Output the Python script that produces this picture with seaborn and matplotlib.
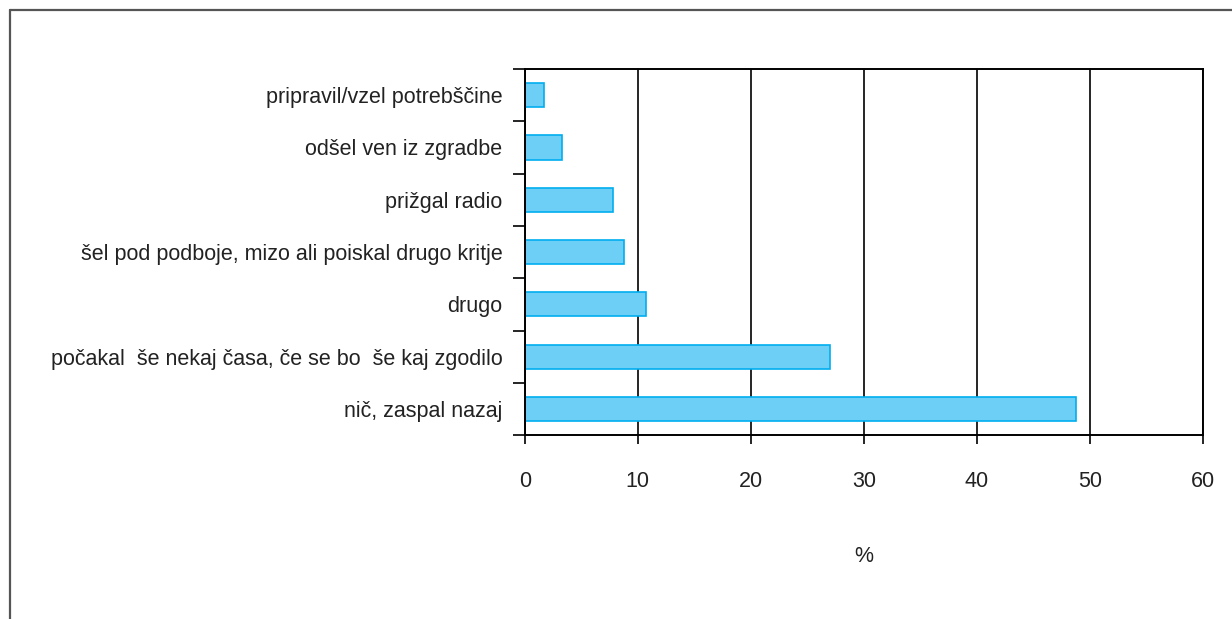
import numpy as np
import pandas as pd
import matplotlib
matplotlib.use('Agg')
import matplotlib.pyplot as plt
from matplotlib.lines import Line2D
import seaborn as sns

categories = [
    'pripravil/vzel potrebščine',
    'odšel ven iz zgradbe',
    'prižgal radio',
    'šel pod podboje, mizo ali poiskal drugo kritje',
    'drugo',
    'počakal  še nekaj časa, če se bo  še kaj zgodilo',
    'nič, zaspal nazaj',
]
percent = [1.7, 3.3, 7.8, 8.8, 10.7, 27.0, 48.8]
x_ticks = [0, 10, 20, 30, 40, 50, 60]

df = pd.DataFrame({'odziv': categories, 'pct': percent})

sns.set_theme(style='white')
plt.rcParams['font.family'] = ['Liberation Sans', 'DejaVu Sans']

fig = plt.figure(figsize=(12.32, 6.19), dpi=100)
ax = fig.add_axes([0.426, 0.297, 0.5505, 0.5915])

sns.barplot(data=df, y='odziv', x='pct', order=categories, orient='h',
            color='#6dcff6', edgecolor='#00aeef', linewidth=1.2,
            width=0.46, saturation=1, ax=ax)

ax.set_xlim(0, 60)
ax.set_ylim(len(categories) - 0.5, -0.5)
ax.set_xticks(x_ticks)
ax.set_xticklabels([str(t) for t in x_ticks], fontsize=15.5, color='#222222')
ax.tick_params(axis='x', bottom=True, direction='out', length=6.5, width=1.2,
               color='black', pad=19)

ax.set_yticks(range(len(categories)))
ax.set_yticklabels(categories, fontsize=15.5, color='#222222')
ax.tick_params(axis='y', which='major', left=True, length=0, pad=16)
ax.set_yticks(np.arange(-0.5, len(categories)), minor=True)
ax.tick_params(axis='y', which='minor', left=True, direction='out', length=8.5,
               width=1.2, color='black')

ax.grid(axis='x', color='black', linewidth=1.2)
ax.set_axisbelow(True)
for side in ['top', 'right', 'bottom', 'left']:
    ax.spines[side].set_visible(True)
    ax.spines[side].set_color('black')
    ax.spines[side].set_linewidth(1.4)

ax.set_ylabel('')
ax.set_xlabel('%', fontsize=15.5, color='#222222', labelpad=39)

# outer frame (only left and top edges are visible)
fig.add_artist(Line2D([10 / 1232, 10 / 1232], [0, 1 - 10 / 619],
                      transform=fig.transFigure, color='#555555', linewidth=1.6))
fig.add_artist(Line2D([10 / 1232, 1], [1 - 10 / 619, 1 - 10 / 619],
                      transform=fig.transFigure, color='#555555', linewidth=1.6))

fig.savefig('out.png', dpi=100)
